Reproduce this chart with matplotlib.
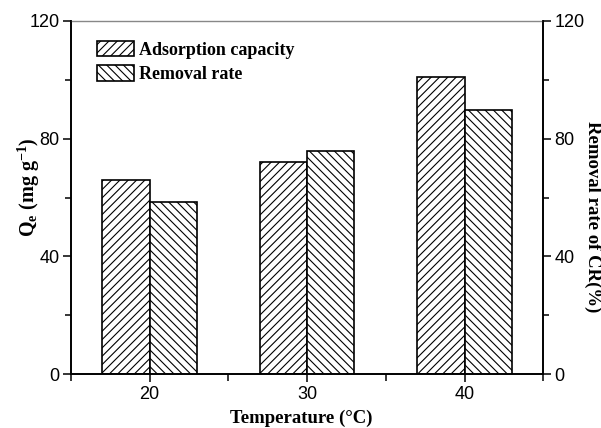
import numpy as np
import matplotlib
matplotlib.use('Agg')
import matplotlib.pyplot as plt
from matplotlib.ticker import MultipleLocator

# data
temps = [20, 30, 40]
capacity = [66.0, 72.2, 101.0]    # Qe (mg g-1)
removal = [58.6, 75.9, 89.7]      # removal rate (%)

plt.rcParams['hatch.linewidth'] = 0.8
plt.rcParams['font.family'] = 'Liberation Sans'
plt.rcParams['mathtext.fontset'] = 'custom'
plt.rcParams['mathtext.bf'] = 'Liberation Serif:bold'
plt.rcParams['mathtext.rm'] = 'Liberation Serif:bold'
plt.rcParams['mathtext.default'] = 'bf'

fig = plt.figure(figsize=(6.01, 4.28), dpi=100)
ax = fig.add_axes([0.118, 0.126, 0.786, 0.825])
ax2 = ax.twinx()

w = 3
b1 = ax.bar(np.array(temps) - w/2, capacity, width=w, facecolor='white',
            edgecolor='black', linewidth=1.2, hatch='////')
b2 = ax2.bar(np.array(temps) + w/2, removal, width=w, facecolor='white',
             edgecolor='black', linewidth=1.2, hatch='\\\\\\\\')

ax.set_xlim(15, 45)
ax.set_ylim(0, 120)
ax2.set_ylim(0, 120)
ax.set_xticks(temps)
ax.set_xticks([15, 25, 35, 45], minor=True)
ax.yaxis.set_major_locator(MultipleLocator(40))
ax.yaxis.set_minor_locator(MultipleLocator(20))
ax2.yaxis.set_major_locator(MultipleLocator(40))
ax2.yaxis.set_minor_locator(MultipleLocator(20))

ax.tick_params(axis='y', which='major', direction='out', length=6, width=1.1, labelsize=13, pad=2)
ax.tick_params(axis='y', which='minor', direction='out', length=4, width=1.1)
ax.tick_params(axis='x', which='major', direction='inout', length=11, width=1.1, labelsize=13, pad=3)
ax.tick_params(axis='x', which='minor', direction='out', length=5, width=1.1)
ax2.tick_params(axis='y', which='major', direction='out', length=6, width=1.1, labelsize=13, pad=2)
ax2.tick_params(axis='y', which='minor', direction='out', length=4, width=1.1)

for a in (ax, ax2):
    for s in ('left', 'right', 'bottom'):
        a.spines[s].set_linewidth(1.2)
ax.spines['top'].set_color('#888888')
ax.spines['top'].set_linewidth(1.0)
ax2.spines['top'].set_visible(False)

serif = {'family': 'Liberation Serif', 'weight': 'bold', 'style': 'normal', 'size': 13.5}
ax.set_xlabel('Temperature (°C)', fontdict=serif, va='center')
ax.xaxis.set_label_coords(0.487, -0.125)
ax.set_ylabel(r'Q$_{e}$ (mg g$^{-1}$)', fontdict=dict(serif, size=14.5), va='center')
ax.yaxis.set_label_coords(-0.089, 0.53)
ax2.set_ylabel('Removal rate of CR(%)', fontdict=serif, rotation=270, va='center')
ax2.yaxis.set_label_coords(1.104, 0.445)

ax.legend([b1, b2], ['Adsorption capacity', 'Removal rate'], loc='upper left',
          frameon=False,
          prop={'family': 'Liberation Serif', 'weight': 'bold', 'style': 'normal', 'size': 13},
          handlelength=2.05, handleheight=0.95, handletextpad=0.3, labelspacing=0.35,
          bbox_to_anchor=(0.02, 0.99))

fig.savefig('out.png', dpi=100)
